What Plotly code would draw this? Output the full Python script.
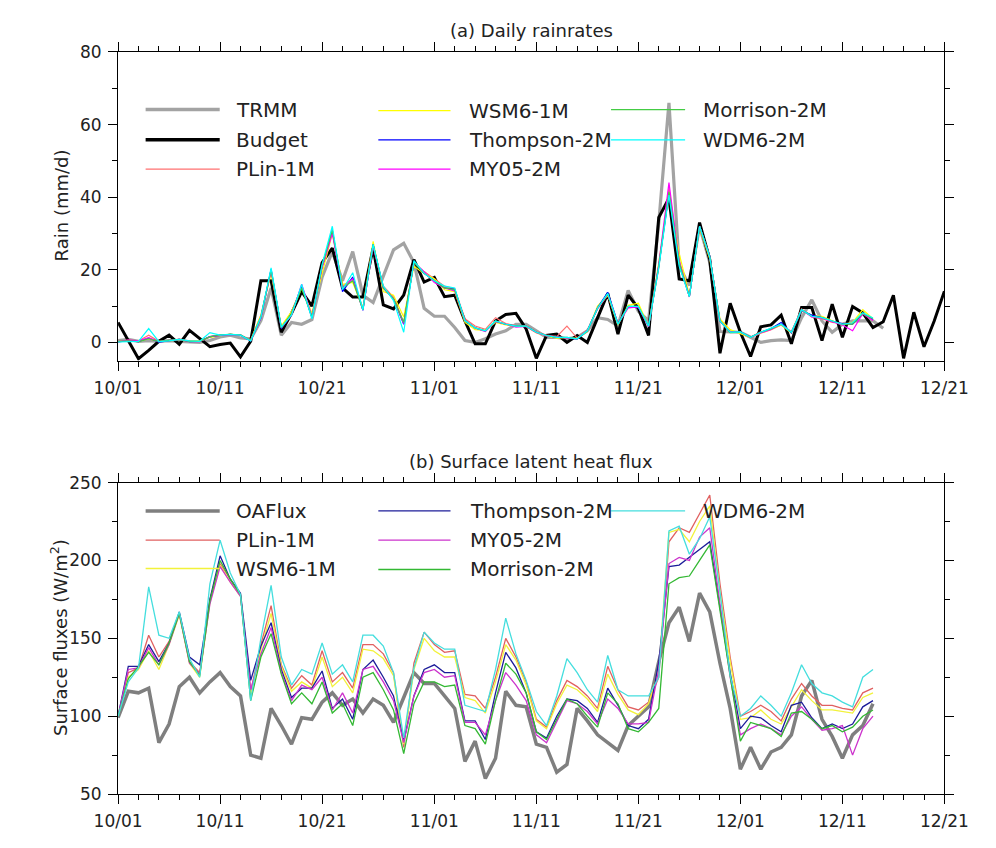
import plotly.graph_objects as go
import pandas as pd

START = "2011-10-01"

# ---------------- (a) Daily rainrates (mm/d) ----------------
budget = [5.5, 0.5, -4.5, -2.2, 0.3, 2.0, -0.5, 3.3, 1.0, -1.2,
          -0.6, -0.2, -4.0, 0.3, 17, 17, 2.8, 8, 14, 10,
          22, 26, 15, 12.5, 12.5, 26, 10.3, 9.2, 13, 22.8,
          16.6, 17.9, 12.6, 13, 5.9, -0.4, -0.4, 5.9, 7.7, 8.0,
          3.7, -4.4, 1.9, 2.3, 0.0, 1.9, 0.0, 6.8, 13.5, 2.3,
          13, 9.4, 1.9, 34.4, 39.7, 17.5, 17, 33, 22.8, -3,
          10.8, 2.8, -3.9, 4.3, 4.8, 7.5, -0.4, 9.6, 9.6, 0.5,
          10.5, 1.4, 9.9, 8.1, 4.1, 5.7, 13, -4.4, 8.3, -1.2,
          5.9, 14.1]

trmm = [0.5, 0.8, 0.3, 0.5, 0.3, 0.5, 0.3, 0.2, 0.0, 0.5,
        1.5, 2.0, 1.2, 1.0, 6, 15, 2, 5.5, 5, 6.3,
        18, 25, 17, 25, 13, 11, 18, 25.5, 27.3, 22,
        9.4, 7.2, 7.2, 4.1, 0.5, 0.0, 1.0, 2.3, 3.2, 5.0,
        5.0, 3.2, 1.4, 1.4, 1.0, 1.4, 3.2, 6.8, 6.3, 4.5,
        14.3, 8.6, 5.9, 33, 66, 21, 15.7, 32, 22, 3,
        2.8, 2.8, 1.4, 0.0, 0.5, 0.7, 0.5, 6.8, 11.7, 5.9,
        2.8, 5.0, 5.9, 5.9, 5.9, 3.9]

rain_plin = [0.3, 0.6, 0.4, 2.0, 0.3, 0.4, 0.9, 0.4, 0.3, 1.6,
             2.1, 2.0, 2.1, 0.6, 7.5, 19.5, 4.2, 8.3, 15.5, 7.5,
             21, 30.5, 15.5, 17.5, 9.5, 26.5, 15.5, 12.5, 5.5, 22,
             19.5, 17.5, 15.5, 14.8, 6.5, 4.5, 3.6, 6.8, 5.2, 4.6,
             4.6, 2.9, 2.0, 1.6, 4.5, 1.2, 3.4, 9.2, 13, 5.2,
             9.6, 9.8, 4.6, 20.5, 42.5, 22.5, 12.8, 32, 23.5, 6.2,
             3.0, 2.6, 1.5, 2.9, 3.6, 4.8, 2.9, 9.2, 7.0, 6.5,
             5.5, 5.2, 5.3, 7.8, 6.0]

rain_wsm6 = [0.2, 0.4, 0.3, 1.0, 0.2, 0.5, 0.7, 0.3, 0.4, 1.4,
             1.9, 2.3, 1.9, 0.6, 7.5, 19, 4.5, 8.5, 15, 8,
             19, 30, 16, 16.5, 9.5, 27.8, 14, 13, 7, 21,
             19, 17.5, 14.5, 14, 5.5, 3.5, 3.3, 5.5, 4.8, 4.4,
             4.4, 2.6, 1.8, 1.2, 1.3, 1.1, 3.0, 10, 13, 4.8,
             10.2, 10.8, 4.4, 22, 41, 24.5, 13, 31.5, 23, 6.5,
             3.5, 2.5, 1.3, 2.5, 3.5, 4.8, 2.6, 8.8, 7.4, 7.2,
             6.0, 4.8, 5.5, 9.0, 6.5]

rain_thompson = [0.1, 0.5, 0.2, 1.2, 0.1, 0.5, 0.8, 0.2, 0.3, 1.6,
                 2.0, 2.2, 2.0, 0.4, 6.8, 20.2, 3.8, 7.8, 15.5, 6.8,
                 21, 31, 14, 18, 8.8, 27, 15, 12, 5, 22,
                 19, 17, 15, 14.6, 6, 4, 3.1, 5.8, 5, 4.5,
                 4.5, 2.8, 1.9, 1.4, 1.3, 0.9, 3.2, 9.5, 13.8, 5.2,
                 9.8, 9.6, 4.4, 21, 41, 21.5, 12.6, 32, 23.8, 5.8,
                 2.8, 2.9, 1.4, 2.8, 3.8, 5.5, 2.6, 8.8, 7.5, 6.8,
                 5.8, 5.2, 5.0, 7.8, 6.3]

rain_my05 = [0.2, 0.6, 0.4, 1.3, 0.2, 0.6, 0.8, 0.3, 0.2, 1.5,
             2.0, 2.1, 2.0, 0.5, 6.8, 19.8, 4.0, 7.5, 16, 7.2,
             20.5, 30, 15, 17.5, 9, 26.5, 15, 12, 5.2, 22,
             19.5, 16.5, 15, 14.2, 6, 4, 3.0, 5.8, 5, 4.2,
             4.4, 2.7, 1.8, 1.6, 1.4, 1.0, 3.3, 9.3, 13.2, 5.0,
             9.5, 9.8, 4.3, 21.5, 44, 22.5, 12.5, 32, 23.5, 5.8,
             2.9, 2.8, 1.3, 2.6, 3.5, 5.0, 2.8, 9.0, 7.0, 6.7,
             5.7, 4.8, 3.2, 8.0, 6.0]

rain_morrison = [0.3, 0.4, 0.2, 1.0, 0.3, 0.5, 0.8, 0.3, 0.3, 1.5,
                 2.1, 2.2, 2.1, 0.5, 7, 20, 4, 8, 15, 7,
                 21, 31, 15, 17, 9, 27, 15, 12, 5.5, 22,
                 19, 17, 15, 14.5, 6, 4, 3.2, 5.9, 5, 4.5,
                 4.5, 2.8, 1.9, 1.4, 1.4, 1.0, 3.2, 9.4, 13.3, 5,
                 9.9, 9.9, 4.5, 21, 41.5, 22, 12.6, 32, 23.7, 5.9,
                 2.7, 2.8, 1.4, 2.8, 3.7, 5, 2.8, 9, 7.2, 6.8,
                 5.9, 5, 5, 8.0, 6.5]

rain_wdm6 = [0.1, 0.3, 0.3, 3.8, 0.2, 0.4, 0.8, 0.4, 0.3, 2.7,
             2.0, 2.2, 2.0, 0.4, 7, 20.5, 4.2, 7.5, 16, 6.5,
             21.5, 32, 14.5, 19.2, 9, 27, 15.5, 11.5, 2.8, 22.5,
             19, 17, 15.5, 15, 6, 4, 3.2, 5.9, 5, 4.5,
             4.5, 2.8, 1.9, 1.4, 1.4, 1.0, 3.2, 9.4, 13.5, 5,
             9.9, 9.9, 4.5, 20.5, 40.6, 21, 12.6, 32, 23.5, 5.9,
             2.8, 2.9, 1.4, 2.8, 3.8, 5, 2.8, 9, 7.2, 6.8,
             5.9, 5, 5.4, 8.2, 6.7]

# ---------------- (b) Surface latent heat flux (W/m2) ----------------
oaflux = [99, 116, 115, 118, 83, 95, 119, 125, 115, 122,
          128, 119, 113, 75, 73, 105, 94, 82, 99, 98,
          109, 115, 107, 111, 102, 111, 107, 96, 112, 128,
          121, 121, 113, 105, 71, 84, 60, 73, 116, 107,
          106, 82, 80, 64, 69, 105, 97, 88, 83, 78,
          94, 100, 106, 135, 160, 170, 148, 179, 167, 134,
          105, 66, 80, 66, 77, 80, 88, 113, 123, 98,
          87, 73, 88, 94, 108]

lh_plin = [100, 128, 131, 152, 138, 148, 166, 135, 128, 175,
           198, 188, 178, 116, 146, 171, 133, 118, 126, 120,
           142, 122, 128, 118, 146, 146, 140, 128, 80, 134,
           154, 146, 141, 142, 114, 113, 105, 125, 150, 138,
           122, 98, 93, 110, 123, 119, 113, 105, 132, 117,
           106, 104, 109, 125, 212, 221, 218, 230, 242, 185,
           138, 100, 103, 107, 103, 97, 111, 121, 113, 107,
           107, 105, 104, 115, 118]

lh_wsm6 = [100, 125, 130, 142, 130, 146, 165, 134, 125, 173,
           197, 186, 177, 113, 143, 166, 132, 116, 122, 118,
           138, 119, 125, 115, 143, 142, 137, 126, 82, 130,
           150, 142, 138, 138, 112, 110, 102, 122, 146, 136,
           120, 97, 92, 108, 120, 117, 111, 103, 127, 114,
           104, 101, 108, 130, 218, 220, 212, 225, 235, 180,
           135, 98, 99, 104, 98, 95, 106, 117, 110, 104,
           104, 103, 102, 112, 115]

lh_thompson = [100, 132, 132, 146, 135, 147, 167, 138, 133, 175,
               203, 188, 179, 123, 145, 160, 130, 112, 118, 118,
               129, 105, 111, 98, 130, 136, 125, 113, 84, 113,
               130, 133, 128, 128, 97, 97, 85, 115, 141, 131,
               115, 90, 86, 100, 111, 110, 105, 96, 118, 107,
               94, 92, 98, 135, 196, 197, 202, 207, 212, 170,
               128, 92, 100, 99, 94, 90, 107, 109, 99, 92,
               95, 92, 95, 106, 110]

lh_my05 = [100, 130, 131, 144, 133, 146, 166, 134, 127, 172,
           196, 186, 177, 117, 140, 157, 128, 110, 120, 117,
           125, 104, 115, 102, 130, 132, 122, 110, 83, 113,
           128, 130, 125, 126, 96, 96, 88, 110, 128, 120,
           110, 88, 83, 96, 110, 108, 103, 95, 111, 105,
           95, 95, 96, 130, 198, 202, 200, 215, 221, 172,
           125, 88, 92, 95, 92, 88, 100, 106, 98, 91,
           92, 94, 75, 92, 100]

lh_morrison = [100, 124, 132, 141, 133, 147, 166, 135, 126, 174,
               200, 188, 178, 110, 138, 153, 127, 108, 115, 108,
               122, 102, 108, 94, 125, 128, 117, 104, 76, 108,
               122, 122, 119, 120, 94, 92, 82, 110, 134, 127,
               115, 90, 85, 98, 111, 108, 100, 93, 115, 108,
               92, 90, 96, 105, 185, 189, 190, 200, 210, 168,
               125, 84, 96, 94, 92, 87, 102, 103, 98, 92,
               94, 90, 93, 100, 104]

lh_wdm6 = [100, 122, 131, 183, 152, 150, 167, 137, 125, 185,
           213, 192, 178, 110, 150, 184, 138, 120, 130, 127,
           147, 127, 133, 122, 152, 152, 145, 128, 86, 131,
           154, 147, 143, 143, 107, 105, 103, 130, 163, 140,
           123, 103, 94, 113, 137, 128, 117, 109, 139, 117,
           113, 113, 113, 125, 219, 222, 204, 214, 228, 180,
           126, 100, 105, 113, 107, 100, 115, 133, 121, 115,
           113, 109, 106, 125, 130]

# ---------------- axis ticks ----------------
major_dates = ["2011-10-01", "2011-10-11", "2011-10-21", "2011-11-01", "2011-11-11",
               "2011-11-21", "2011-12-01", "2011-12-11", "2011-12-21"]
major_labels = ["10/01", "10/11", "10/21", "11/01", "11/11", "11/21", "12/01", "12/11", "12/21"]
rain_ticks = [0, 20, 40, 60, 80]
rain_minor = [10, 30, 50, 70]
flux_ticks = [50, 100, 150, 200, 250]
flux_minor = [75, 125, 175, 225]

# ---------------- figure ----------------
W, H = 996, 848
FONT = "DejaVu Sans"
TXT = "#222222"


def px(x):
    return x / W


def py(y):
    return 1 - y / H


def dates(vals):
    return pd.date_range(START, periods=len(vals), freq="D")


minor_dates = []
for a in major_dates[:-1]:
    for k in (2, 4, 6, 8):
        minor_dates.append((pd.Timestamp(a) + pd.Timedelta(days=k)).strftime("%Y-%m-%d"))

top_series = [
    ("TRMM", trmm, "#a3a3a3", 3.2),
    ("Budget", budget, "#000000", 3.0),
    ("PLin-1M", rain_plin, "#ff7070", 1.2),
    ("WSM6-1M", rain_wsm6, "#ffff00", 1.2),
    ("Thompson-2M", rain_thompson, "#0000ff", 1.2),
    ("MY05-2M", rain_my05, "#ff00ff", 1.2),
    ("Morrison-2M", rain_morrison, "#44cc44", 1.2),
    ("WDM6-2M", rain_wdm6, "#00ffff", 1.2),
]
bot_series = [
    ("OAFlux", oaflux, "#7f7f7f", 3.5),
    ("PLin-1M", lh_plin, "#e06060", 1.3),
    ("WSM6-1M", lh_wsm6, "#f2f23a", 1.3),
    ("Thompson-2M", lh_thompson, "#1c1c99", 1.3),
    ("MY05-2M", lh_my05, "#cc33cc", 1.3),
    ("Morrison-2M", lh_morrison, "#33b833", 1.3),
    ("WDM6-2M", lh_wdm6, "#44dede", 1.3),
]

fig = go.Figure()
for name, vals, col, w in top_series:
    fig.add_trace(go.Scatter(x=dates(vals), y=vals, mode="lines", name=name,
                             line=dict(color=col, width=w), xaxis="x", yaxis="y",
                             showlegend=False))
for name, vals, col, w in bot_series:
    fig.add_trace(go.Scatter(x=dates(vals), y=vals, mode="lines", name=name,
                             line=dict(color=col, width=w), xaxis="x2", yaxis="y2",
                             showlegend=False))


def xax(anchor):
    return dict(domain=[px(98), px(968)], anchor=anchor, type="date",
                range=[major_dates[0], major_dates[-1]],
                tickmode="array", tickvals=major_dates, ticktext=major_labels,
                ticks="outside", ticklen=9, tickwidth=1, tickcolor="black",
                showline=True, linecolor="black", linewidth=1, mirror="ticks",
                showgrid=False, zeroline=False, ticklabelstandoff=3,
                minor=dict(tickmode="array", tickvals=minor_dates, ticks="outside",
                           ticklen=5, tickwidth=1, tickcolor="black", showgrid=False),
                tickfont=dict(family=FONT, size=17, color=TXT))


def yax(anchor, dom, rng, tv, mv):
    return dict(domain=dom, anchor=anchor, range=rng,
                tickmode="array", tickvals=tv,
                ticks="outside", ticklen=9, tickwidth=1, tickcolor="black",
                showline=True, linecolor="black", linewidth=1, mirror="ticks",
                showgrid=False, zeroline=False, ticklabelstandoff=3,
                minor=dict(tickmode="array", tickvals=mv, ticks="outside",
                           ticklen=5, tickwidth=1, tickcolor="black", showgrid=False),
                tickfont=dict(family=FONT, size=17, color=TXT))


annotations = [
    dict(text="(a) Daily rainrates", x=px(533), y=py(21), xref="paper", yref="paper",
         xanchor="center", yanchor="middle", showarrow=False,
         font=dict(family=FONT, size=18, color=TXT)),
    dict(text="(b) Surface latent heat flux", x=px(533), y=py(462), xref="paper", yref="paper",
         xanchor="center", yanchor="middle", showarrow=False,
         font=dict(family=FONT, size=18, color=TXT)),
    dict(text="Rain (mm/d)", x=px(38), y=py(200), xref="paper", yref="paper",
         xanchor="center", yanchor="middle", showarrow=False, textangle=-90,
         font=dict(family=FONT, size=18, color=TXT)),
    dict(text="Surface fluxes (W/m<sup>2</sup>)", x=px(36), y=py(643), xref="paper", yref="paper",
         xanchor="center", yanchor="middle", showarrow=False, textangle=-90,
         font=dict(family=FONT, size=18, color=TXT)),
]
shapes = []

# legend layout: (name, colour, width, line x0, line x1, text x, row y)
top_legend = [
    ("TRMM", "#a3a3a3", 3.5, 127, 205, 220, 102),
    ("Budget", "#000000", 3.5, 127, 205, 220, 133),
    ("PLin-1M", "#ff7070", 1.2, 127, 205, 220, 163),
    ("WSM6-1M", "#ffff00", 1.2, 372, 448, 465, 103),
    ("Thompson-2M", "#0000ff", 1.2, 372, 448, 465, 133),
    ("MY05-2M", "#ff00ff", 1.2, 372, 448, 465, 163),
    ("Morrison-2M", "#44cc44", 1.2, 617, 695, 712, 102),
    ("WDM6-2M", "#00ffff", 1.2, 617, 695, 712, 133),
]
bot_legend = [
    ("OAFlux", "#7f7f7f", 3.5, 127, 205, 220, 513),
    ("PLin-1M", "#e06060", 1.3, 127, 205, 220, 543),
    ("WSM6-1M", "#f2f23a", 1.3, 127, 205, 220, 572),
    ("Thompson-2M", "#1c1c99", 1.3, 372, 448, 466, 513),
    ("MY05-2M", "#cc33cc", 1.3, 372, 448, 466, 543),
    ("Morrison-2M", "#33b833", 1.3, 372, 448, 466, 573),
    ("WDM6-2M", "#44dede", 1.3, 617, 695, 712, 513),
]
for name, col, w, x0, x1, tx, ry in top_legend + bot_legend:
    shapes.append(dict(type="line", xref="paper", yref="paper",
                       x0=px(x0), x1=px(x1), y0=py(ry), y1=py(ry),
                       line=dict(color=col, width=w)))
    annotations.append(dict(text=name, x=px(tx), y=py(ry), xref="paper", yref="paper",
                            xanchor="left", yanchor="middle", showarrow=False,
                            font=dict(family=FONT, size=20, color=TXT)))

fig.update_layout(
    width=W, height=H, margin=dict(l=0, r=0, t=0, b=0),
    paper_bgcolor="white", plot_bgcolor="white",
    xaxis=xax("y"),
    yaxis=yax("x", [py(359), py(43)], [-5, 80], rain_ticks, rain_minor),
    xaxis2=xax("y2"),
    yaxis2=yax("x2", [py(803), py(484)], [50, 250], flux_ticks, flux_minor),
    annotations=annotations, shapes=shapes, showlegend=False,
    font=dict(family=FONT, color=TXT),
)

fig.write_html("out.html")
